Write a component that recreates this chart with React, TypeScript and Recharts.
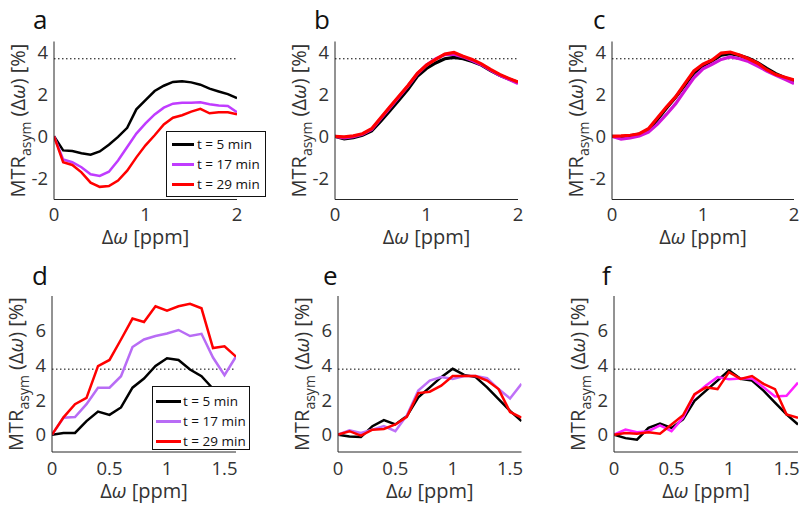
import React from "react";
import { LineChart, Line, XAxis, YAxis, ReferenceLine, Label } from "recharts";

// x grids (ppm)
const xTop = [0, 0.1, 0.2, 0.3, 0.4, 0.5, 0.6, 0.7, 0.8, 0.9, 1.0, 1.1, 1.2, 1.3, 1.4, 1.5, 1.6, 1.7, 1.8, 1.9, 2.0];
const xBottom = [0, 0.1, 0.2, 0.3, 0.4, 0.5, 0.6, 0.7, 0.8, 0.9, 1.0, 1.1, 1.2, 1.3, 1.4, 1.5, 1.6];

const seriesNames = ["t = 5 min", "t = 17 min", "t = 29 min"];

// panel a
const aT5 = [0, -0.67, -0.7, -0.8, -0.87, -0.72, -0.4, -0.03, 0.4, 1.28, 1.72, 2.15, 2.4, 2.58, 2.61, 2.56, 2.45, 2.26, 2.13, 2.0, 1.81];
const aT17 = [0, -1.1, -1.23, -1.47, -1.8, -1.88, -1.68, -1.15, -0.51, 0.13, 0.61, 1.04, 1.36, 1.55, 1.59, 1.59, 1.62, 1.52, 1.46, 1.44, 1.14];
const aT29 = [0, -1.23, -1.36, -1.71, -2.2, -2.4, -2.36, -2.1, -1.63, -1.0, -0.43, 0.05, 0.56, 0.88, 1.0, 1.17, 1.3, 1.09, 1.14, 1.14, 1.04];

// panel b
const bT5 = [0, -0.12, -0.06, 0.05, 0.25, 0.72, 1.22, 1.72, 2.25, 2.85, 3.22, 3.48, 3.68, 3.75, 3.68, 3.55, 3.38, 3.12, 2.9, 2.72, 2.55];
const bT17 = [0, -0.08, -0.02, 0.1, 0.32, 0.85, 1.36, 1.88, 2.4, 2.97, 3.38, 3.68, 3.88, 3.9, 3.77, 3.6, 3.4, 3.14, 2.9, 2.7, 2.5];
const bT29 = [0, -0.03, 0.02, 0.12, 0.36, 0.88, 1.4, 1.91, 2.42, 2.99, 3.38, 3.65, 3.9, 3.98, 3.8, 3.65, 3.44, 3.18, 2.94, 2.75, 2.58];

// panel c
const cT5 = [0, -0.03, 0.02, 0.1, 0.3, 0.8, 1.34, 1.85, 2.42, 3.0, 3.35, 3.58, 3.85, 3.92, 3.84, 3.7, 3.5, 3.22, 2.97, 2.78, 2.64];
const cT17 = [0, -0.13, -0.08, 0.02, 0.2, 0.58, 1.05, 1.55, 2.17, 2.78, 3.2, 3.42, 3.65, 3.77, 3.68, 3.55, 3.33, 3.1, 2.9, 2.7, 2.5];
const cT29 = [0, 0.02, 0.05, 0.12, 0.36, 0.88, 1.4, 1.88, 2.5, 3.1, 3.42, 3.62, 3.95, 4.0, 3.86, 3.68, 3.47, 3.16, 2.93, 2.8, 2.68];

// panel d
const dT5 = [0, 0.1, 0.1, 0.78, 1.33, 1.14, 1.57, 2.71, 3.24, 3.96, 4.41, 4.31, 3.76, 3.37, 2.65, 2.0, 1.4];
const dT17 = [0, 0.98, 1.02, 1.76, 2.71, 2.71, 3.37, 5.06, 5.49, 5.69, 5.84, 6.04, 5.69, 5.82, 4.45, 3.43, 4.51];
const dT29 = [0, 1.0, 1.76, 2.12, 3.96, 4.31, 5.49, 6.7, 6.5, 7.41, 7.16, 7.41, 7.55, 7.29, 5.0, 5.1, 4.5];

// panel e
const eT5 = [0, -0.1, -0.14, 0.49, 0.84, 0.59, 1.07, 2.15, 2.73, 3.32, 3.8, 3.45, 3.32, 2.73, 2.05, 1.37, 0.78];
const eT17 = [0, 0.25, 0.1, 0.29, 0.49, 0.2, 1.11, 2.54, 3.12, 3.32, 3.22, 3.38, 3.38, 3.26, 2.63, 2.09, 2.93];
const eT29 = [0, 0.2, -0.06, 0.29, 0.33, 0.59, 1.03, 2.4, 2.48, 2.83, 3.38, 3.38, 3.38, 3.12, 2.63, 1.31, 0.98];

// panel f
const fT5 = [0, -0.2, -0.29, 0.39, 0.64, 0.39, 0.88, 1.95, 2.54, 3.12, 3.71, 3.22, 3.12, 2.54, 1.85, 1.17, 0.59];
const fT17 = [0, 0.29, 0.14, 0.2, 0.53, 0.2, 0.98, 2.29, 2.83, 3.32, 3.2, 3.24, 3.24, 2.73, 2.2, 2.24, 3.0];
const fT29 = [0, 0.1, 0.06, 0.14, 0.06, 0.59, 1.12, 2.34, 2.73, 2.63, 3.61, 3.22, 3.38, 2.93, 2.63, 1.17, 0.98];

const topTicksX = [0, 1, 2];
const bottomTicksX = [0, 0.5, 1, 1.5];
const topTicksY = [-2, 0, 2, 4];
const bottomTicksY = [0, 2, 4, 6];
const topRef = 3.68;
const bottomRef = 3.78;

const FONT = "'Open Sans', 'DejaVu Sans', sans-serif";
const INK = "#333333";
const FRAME = "#262626";
const BLACK = "#000000";
const RED = "#ff0000";

const AY_W = 50;
const AX_H = 30;

const noTick = () => <g />;

function makeRows(x: number[], ys: number[][]) {
    return x.map((v, i) => ({ x: v, s0: ys[0][i], s1: ys[1][i], s2: ys[2][i] }));
}

function XLab({ viewBox, off }: any) {
    const cx = viewBox.x + viewBox.width / 2;
    return (
        <text x={cx} y={viewBox.y + off} textAnchor="middle" fill={INK} fontSize={20} fontFamily={FONT}>
            Δ<tspan fontStyle="italic">ω</tspan> [ppm]
        </text>
    );
}

function YLab({ viewBox, plotTop, plotH }: any) {
    const cx = viewBox.x + viewBox.width - 29;
    const cy = plotTop + plotH / 2;
    return (
        <text
            x={cx}
            y={cy}
            transform={`rotate(-90 ${cx} ${cy})`}
            textAnchor="middle"
            fill={INK}
            fontSize={20}
            fontFamily={FONT}
        >
            MTR
            <tspan fontSize={14} dy={6}>asym</tspan>
            <tspan dy={-6}> (Δ</tspan>
            <tspan fontStyle="italic">ω</tspan>
            <tspan>) [%]</tspan>
        </text>
    );
}

const panels = [
    { letter: "a", lx: 33, ly: 29, left: 0, top: 0, width: 270, height: 250, pl: 54, pr: 237, pt: 41.5, pb: 199.5, x: xTop, series: [aT5, aT17, aT29], colors: [BLACK, "#c03cff", RED], lw: 2.5, xDomain: [0, 2], xTicks: topTicksX, yDomain: [-3, 4.5], yTicks: topTicksY, ref: topRef, tickOff: 21.5, labOff: 44, legend: { left: 166, top: 131, width: 100, height: 66, padTop: 2, lineLeft: 5, lineW: 22, gap: 3 } },
    { letter: "b", lx: 314, ly: 29, left: 270, top: 0, width: 270, height: 250, pl: 335, pr: 518, pt: 41.5, pb: 199.5, x: xTop, series: [bT5, bT17, bT29], colors: [BLACK, "#d214d8", RED], lw: 3.2, xDomain: [0, 2], xTicks: topTicksX, yDomain: [-3, 4.5], yTicks: topTicksY, ref: topRef, tickOff: 21.5, labOff: 44 },
    { letter: "c", lx: 593, ly: 29, left: 540, top: 0, width: 260, height: 250, pl: 612, pr: 794, pt: 41.5, pb: 199.5, x: xTop, series: [cT5, cT17, cT29], colors: [BLACK, "#d214d8", RED], lw: 3.2, xDomain: [0, 2], xTicks: topTicksX, yDomain: [-3, 4.5], yTicks: topTicksY, ref: topRef, tickOff: 21.5, labOff: 44 },
    { letter: "d", lx: 32, ly: 285, left: 0, top: 250, width: 270, height: 256, pl: 52, pr: 236, pt: 296, pb: 452, x: xBottom, series: [dT5, dT17, dT29], colors: [BLACK, "#b86cf5", RED], lw: 2.5, xDomain: [0, 1.6], xTicks: bottomTicksX, yDomain: [-1, 8], yTicks: bottomTicksY, ref: bottomRef, tickOff: 23, labOff: 46, legend: { left: 152, top: 386, width: 98, height: 64, padTop: 4, lineLeft: 3, lineW: 25, gap: 2 } },
    { letter: "e", lx: 323, ly: 285, left: 270, top: 250, width: 270, height: 256, pl: 338, pr: 521.5, pt: 296, pb: 452, x: xBottom, series: [eT5, eT17, eT29], colors: [BLACK, "#bf70f7", RED], lw: 2.5, xDomain: [0, 1.6], xTicks: bottomTicksX, yDomain: [-1, 8], yTicks: bottomTicksY, ref: bottomRef, tickOff: 23, labOff: 46 },
    { letter: "f", lx: 602, ly: 285, left: 540, top: 250, width: 260, height: 256, pl: 614, pr: 798, pt: 296, pb: 452, x: xBottom, series: [fT5, fT17, fT29], colors: [BLACK, "#ff20ff", RED], lw: 2.5, xDomain: [0, 1.6], xTicks: bottomTicksX, yDomain: [-1, 8], yTicks: bottomTicksY, ref: bottomRef, tickOff: 23, labOff: 46 },
];

function LegendBox({ lg, colors }: any) {
    return (
        <div
            style={{
                position: "absolute",
                left: lg.left,
                top: lg.top,
                width: lg.width,
                height: lg.height,
                boxSizing: "border-box",
                border: "1px solid #111",
                background: "#fff",
                paddingTop: lg.padTop,
                fontFamily: FONT,
                fontSize: 13.5,
                color: "#111",
            }}
        >
            {seriesNames.map((n, i) => (
                <div key={n} style={{ display: "flex", alignItems: "center", height: 20 }}>
                    <span
                        style={{
                            display: "inline-block",
                            width: lg.lineW,
                            height: 3,
                            background: colors[i],
                            marginLeft: lg.lineLeft,
                            marginRight: lg.gap,
                        }}
                    />
                    <span>{n}</span>
                </div>
            ))}
        </div>
    );
}

function Panel({ p }: any) {
    const data = makeRows(p.x, p.series);
    const top = p.pt - p.top;
    const bottom = p.height - (p.pb - p.top) - AX_H;
    const margin = { top, right: p.left + p.width - p.pr, bottom, left: p.pl - p.left - AY_W };
    const plotH = p.pb - p.pt;
    const common = { type: "number" as const, allowDataOverflow: true, interval: 0 as const };
    return (
        <div style={{ position: "absolute", left: p.left, top: p.top }}>
            <LineChart width={p.width} height={p.height} data={data} margin={margin}>
                <XAxis
                    {...common}
                    dataKey="x"
                    domain={p.xDomain}
                    ticks={p.xTicks}
                    height={AX_H}
                    tickLine={false}
                    tickSize={0}
                    tickMargin={0}
                    axisLine={{ stroke: FRAME }}
                    tick={(t: any) => (
                        <text x={t.x} y={t.y + p.tickOff} textAnchor="middle" fill={INK} fontSize={18.5} fontFamily={FONT}>
                            {t.payload.value}
                        </text>
                    )}
                >
                    <Label content={<XLab off={p.labOff} />} />
                </XAxis>
                <XAxis xAxisId="mb" {...common} domain={p.xDomain} ticks={p.xTicks} mirror height={0} axisLine={false} tickLine={{ stroke: FRAME }} tickSize={4} tick={noTick} />
                <XAxis xAxisId="mt" {...common} orientation="top" domain={p.xDomain} ticks={p.xTicks} mirror height={0} axisLine={{ stroke: FRAME }} tickLine={{ stroke: FRAME }} tickSize={4} tick={noTick} />
                <YAxis
                    {...common}
                    domain={p.yDomain}
                    ticks={p.yTicks}
                    width={AY_W}
                    tickLine={false}
                    tickSize={0}
                    tickMargin={6}
                    axisLine={{ stroke: FRAME }}
                    tick={(t: any) => (
                        <text x={t.x} y={t.y} dy="0.36em" textAnchor="end" fill={INK} fontSize={18.5} fontFamily={FONT}>
                            {t.payload.value}
                        </text>
                    )}
                >
                    <Label content={<YLab plotTop={top} plotH={plotH} />} />
                </YAxis>
                <YAxis yAxisId="ml" {...common} domain={p.yDomain} ticks={p.yTicks} mirror width={0} axisLine={false} tickLine={{ stroke: FRAME }} tickSize={4} tick={noTick} />
                <YAxis yAxisId="mr" {...common} orientation="right" domain={p.yDomain} ticks={p.yTicks} mirror width={0} axisLine={{ stroke: FRAME }} tickLine={{ stroke: FRAME }} tickSize={4} tick={noTick} />
                <ReferenceLine y={p.ref} stroke="#000" strokeWidth={1} strokeDasharray="1.5 2.5" />
                {[0, 1, 2].map((i) => (
                    <Line
                        key={i}
                        dataKey={`s${i}`}
                        name={seriesNames[i]}
                        type="linear"
                        stroke={p.colors[i]}
                        strokeWidth={p.lw}
                        dot={false}
                        activeDot={false}
                        isAnimationActive={false}
                    />
                ))}
            </LineChart>
            {p.legend && (
                <div style={{ position: "absolute", left: -p.left, top: -p.top }}>
                    <LegendBox lg={p.legend} colors={p.colors} />
                </div>
            )}
        </div>
    );
}

export default function App() {
    return (
        <div style={{ position: "absolute", left: 0, top: 0, width: 800, height: 506, background: "#fff", overflow: "hidden" }}>
            <svg width={800} height={506} style={{ position: "absolute", left: 0, top: 0 }}>
                {panels.map((p) => (
                    <text key={p.letter} x={p.lx} y={p.ly} fontSize={26} fontFamily={FONT} fill="#111">
                        {p.letter}
                    </text>
                ))}
            </svg>
            {panels.map((p) => (
                <Panel key={p.letter} p={p} />
            ))}
        </div>
    );
}
